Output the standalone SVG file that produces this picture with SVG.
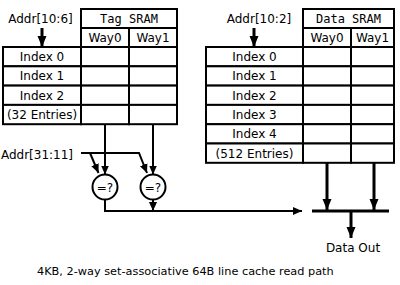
<svg xmlns="http://www.w3.org/2000/svg" width="400" height="285" viewBox="0 0 400 285">
<style>
text{font-family:"DejaVu Sans",sans-serif;font-size:12px;fill:#000;text-anchor:middle}
.mono{font-family:"DejaVu Sans Mono",monospace}
.cell{fill:#fff;stroke:#000;stroke-width:2}
.ln{fill:none;stroke:#000;stroke-width:2}
.thick{fill:none;stroke:#000;stroke-width:3}
.cap{font-size:11.3px;text-anchor:start}
</style>
<defs>
<marker id="ah" markerUnits="userSpaceOnUse" markerWidth="10" markerHeight="10" refX="9" refY="5" orient="auto"><path d="M0,1 L9,5 L0,9 z" fill="#000"/></marker>
<marker id="ahb" markerUnits="userSpaceOnUse" markerWidth="12" markerHeight="12" refX="11" refY="6" orient="auto"><path d="M0,1.5 L11,6 L0,10.5 z" fill="#000"/></marker>
</defs>
<g id="tag-sram">
<rect class="cell" x="81" y="9" width="96" height="19"/>
<rect class="cell" x="81" y="28" width="48" height="19"/>
<rect class="cell" x="129" y="28" width="48" height="19"/>
<text class="mono" x="129" y="23">Tag SRAM</text>
<text x="105" y="42">Way0</text>
<text x="153" y="42">Way1</text>
<rect class="cell" x="3" y="47" width="78" height="19.3"/>
<rect class="cell" x="3" y="66.3" width="78" height="19.3"/>
<rect class="cell" x="3" y="85.6" width="78" height="19.3"/>
<rect class="cell" x="3" y="104.9" width="78" height="19.3"/>
<rect class="cell" x="81" y="47" width="48" height="19.3"/>
<rect class="cell" x="81" y="66.3" width="48" height="19.3"/>
<rect class="cell" x="81" y="85.6" width="48" height="19.3"/>
<rect class="cell" x="81" y="104.9" width="48" height="19.3"/>
<rect class="cell" x="129" y="47" width="48" height="19.3"/>
<rect class="cell" x="129" y="66.3" width="48" height="19.3"/>
<rect class="cell" x="129" y="85.6" width="48" height="19.3"/>
<rect class="cell" x="129" y="104.9" width="48" height="19.3"/>
<text x="42" y="61">Index 0</text>
<text x="42" y="80.3">Index 1</text>
<text x="42" y="99.6">Index 2</text>
<text x="42" y="118.9">(32 Entries)</text>
</g>
<g id="data-sram">
<rect class="cell" x="303" y="9" width="91" height="19"/>
<rect class="cell" x="303" y="28" width="48" height="19"/>
<rect class="cell" x="351" y="28" width="43" height="19"/>
<text class="mono" x="348.5" y="23">Data SRAM</text>
<text x="327" y="42">Way0</text>
<text x="372.5" y="42">Way1</text>
<rect class="cell" x="206" y="47" width="97" height="19.3"/>
<rect class="cell" x="206" y="66.3" width="97" height="19.3"/>
<rect class="cell" x="206" y="85.6" width="97" height="19.3"/>
<rect class="cell" x="206" y="104.9" width="97" height="19.3"/>
<rect class="cell" x="206" y="124.2" width="97" height="19.3"/>
<rect class="cell" x="206" y="143.5" width="97" height="19.3"/>
<rect class="cell" x="303" y="47" width="48" height="19.3"/>
<rect class="cell" x="303" y="66.3" width="48" height="19.3"/>
<rect class="cell" x="303" y="85.6" width="48" height="19.3"/>
<rect class="cell" x="303" y="104.9" width="48" height="19.3"/>
<rect class="cell" x="303" y="124.2" width="48" height="19.3"/>
<rect class="cell" x="303" y="143.5" width="48" height="19.3"/>
<rect class="cell" x="351" y="47" width="43" height="19.3"/>
<rect class="cell" x="351" y="66.3" width="43" height="19.3"/>
<rect class="cell" x="351" y="85.6" width="43" height="19.3"/>
<rect class="cell" x="351" y="104.9" width="43" height="19.3"/>
<rect class="cell" x="351" y="124.2" width="43" height="19.3"/>
<rect class="cell" x="351" y="143.5" width="43" height="19.3"/>
<text x="254.5" y="61">Index 0</text>
<text x="254.5" y="80.3">Index 1</text>
<text x="254.5" y="99.6">Index 2</text>
<text x="254.5" y="118.9">Index 3</text>
<text x="254.5" y="138.2">Index 4</text>
<text x="254.5" y="157.5">(512 Entries)</text>
</g>
<g id="addr-tag-index"><text x="40.5" y="23">Addr[10:6]</text></g>
<g id="addr-data-index"><text x="259" y="23">Addr[10:2]</text></g>
<g id="addr-tag"><text x="37" y="159">Addr[31:11]</text></g>
<g id="cmp0"><circle class="cell" cx="105" cy="187" r="12.5"/><text x="105" y="191.5">=?</text></g>
<g id="cmp1"><circle class="cell" cx="153" cy="187" r="12.5"/><text x="153" y="191.5">=?</text></g>
<g id="mux"><line x1="312" y1="211" x2="389" y2="211" stroke="#000" stroke-width="3"/></g>
<g id="data-out"><text x="353" y="252">Data Out</text></g>
<g id="caption"><text class="cap" x="37" y="275">4KB, 2-way set-associative 64B line cache read path</text></g>
<g id="connectors">
<line class="thick" x1="42" y1="28" x2="42" y2="47" marker-end="url(#ahb)"/>
<line class="thick" x1="254" y1="28" x2="254" y2="47" marker-end="url(#ahb)"/>
<line class="ln" x1="105" y1="124" x2="105" y2="174.5" marker-end="url(#ah)"/>
<line class="ln" x1="153" y1="124" x2="153" y2="174.5" marker-end="url(#ah)"/>
<polyline class="ln" points="81,153 139,153 147,173" marker-end="url(#ah)"/>
<line class="ln" x1="90" y1="153" x2="98.5" y2="173" marker-end="url(#ah)"/>
<polyline class="ln" points="105,199.5 105,211 302,211" marker-end="url(#ah)"/>
<line class="ln" x1="153" y1="199.5" x2="153" y2="211" marker-end="url(#ah)"/>
<line class="thick" x1="327" y1="163" x2="327" y2="210" marker-end="url(#ahb)"/>
<line class="thick" x1="374" y1="163" x2="374" y2="210" marker-end="url(#ahb)"/>
<line class="thick" x1="351" y1="212" x2="351" y2="238" marker-end="url(#ahb)"/>
</g>
</svg>
